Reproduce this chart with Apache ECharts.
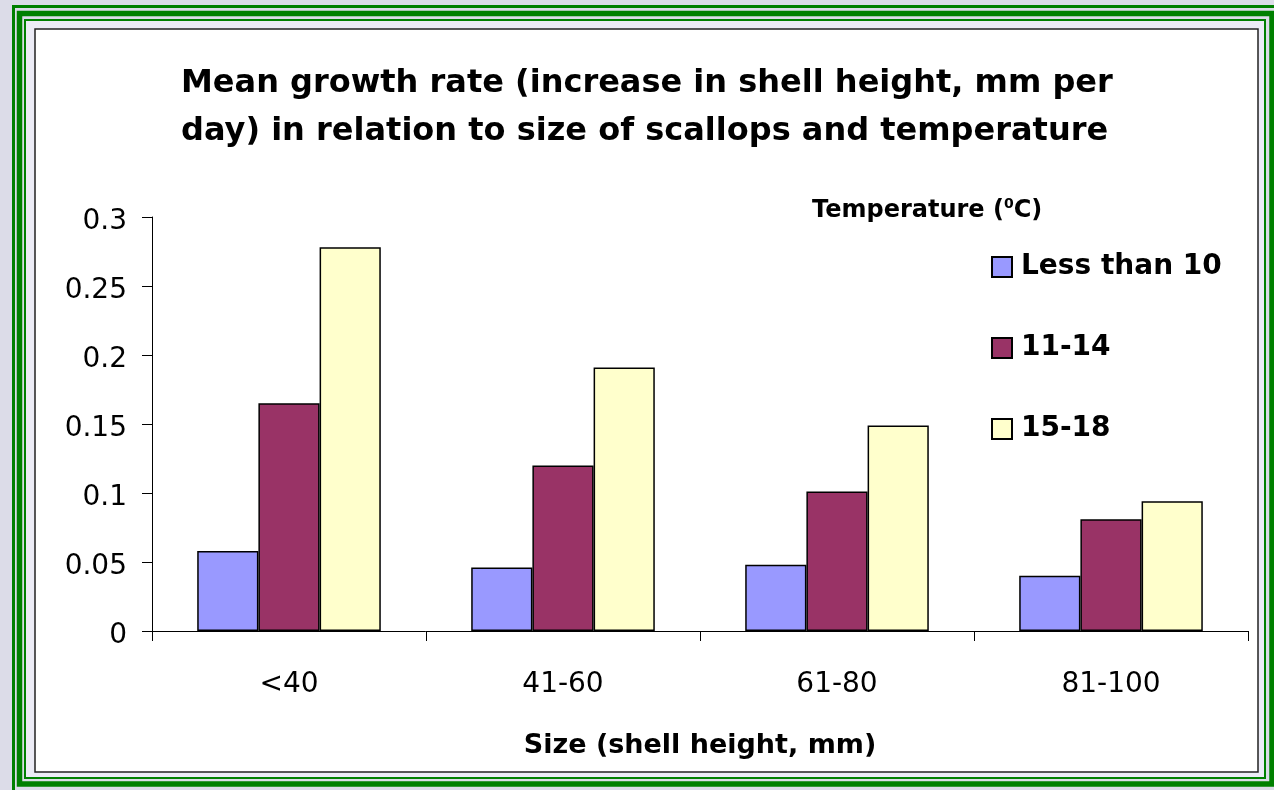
<!DOCTYPE html>
<html>
<head>
<meta charset="utf-8">
<script src="https://cdn.jsdelivr.net/npm/echarts@6/dist/echarts.min.js"></script>
<style>
html,body{margin:0;padding:0;background:#dcdce8;}
#chart{width:1274px;height:790px;}
</style>
</head>
<body>
<div id="chart"></div>
<script>
const categories = ['<40', '41-60', '61-80', '81-100'];
const seriesNames = ['Less than 10', '11-14', '15-18'];
const lessThan10 = [0.058, 0.046, 0.048, 0.040];
const t11to14 = [0.165, 0.120, 0.101, 0.081];
const t15to18 = [0.278, 0.191, 0.149, 0.094];
const yTicks = [0, 0.05, 0.1, 0.15, 0.2, 0.25, 0.3];

const FONT = 'DejaVu Sans';
const colors = ['#9999ff', '#993366', '#ffffcc'];
const chart = echarts.init(document.getElementById('chart'), null, {renderer: 'canvas'});

function barSeries(name, data, color) {
  return {
    name: name, type: 'bar', data: data,
    barGap: '0%', barCategoryGap: '33%',
    itemStyle: {color: color, borderColor: '#000', borderWidth: 1.5},
    emphasis: {disabled: true}
  };
}

const option = {
  backgroundColor: '#dcdce8',
  animation: false,
  graphic: [
    {type: 'rect', z: -10, shape: {x: 13.5, y: 6.5, width: 1300, height: 800}, style: {fill: null, stroke: '#008000', lineWidth: 3}},
    {type: 'rect', z: -10, shape: {x: 19.5, y: 13.5, width: 1252.5, height: 770.5}, style: {fill: null, stroke: '#008000', lineWidth: 5.5}},
    {type: 'rect', z: -10, shape: {x: 25, y: 20, width: 1240, height: 758}, style: {fill: '#ececf6', stroke: '#008000', lineWidth: 2}},
    {type: 'rect', z: -9, shape: {x: 35, y: 29, width: 1223, height: 743}, style: {fill: '#ffffff', stroke: '#222', lineWidth: 1.5}},
    {type: 'text', z: 10, x: 812, y: 211,
      style: {
        text: '{a|Temperature (}{s|0}{a|C)}',
        textVerticalAlign: 'middle',
        rich: {
          a: {fontFamily: FONT, fontWeight: 'bold', fontSize: 24, fill: '#000', lineHeight: 28},
          s: {fontFamily: FONT, fontWeight: 'bold', fontSize: 14, fill: '#000', lineHeight: 28, verticalAlign: 'top', padding: [0, 0, 10, 0]}
        }
      }
    }
  ],
  title: {
    text: 'Mean growth rate (increase in shell height, mm per\nday) in relation to size of scallops and temperature',
    left: 181,
    top: 60,
    padding: 0,
    textStyle: {fontFamily: FONT, fontWeight: 'bold', fontSize: 32, lineHeight: 48, color: '#000'}
  },
  legend: {
    orient: 'vertical',
    left: 986, top: 248,
    itemWidth: 20, itemHeight: 20, itemGap: 53,
    icon: 'rect',
    data: seriesNames,
    textStyle: {fontFamily: FONT, fontWeight: 'bold', fontSize: 28, color: '#000', padding: [0, 0, 0, 4]}
  },
  grid: {left: 152, right: 26, top: 217, bottom: 159, containLabel: false},
  xAxis: {
    type: 'category',
    data: categories,
    boundaryGap: true,
    name: 'Size (shell height, mm)',
    nameLocation: 'middle',
    nameGap: 101,
    nameTextStyle: {fontFamily: FONT, fontWeight: 'bold', fontSize: 27, color: '#000'},
    axisLine: {lineStyle: {color: '#000', width: 1}},
    axisTick: {show: true, inside: false, length: 10, lineStyle: {color: '#000'}},
    axisLabel: {fontFamily: FONT, fontSize: 28, color: '#000', margin: 40}
  },
  yAxis: {
    type: 'value',
    min: 0, max: 0.3, interval: 0.05,
    axisLine: {show: true, lineStyle: {color: '#000', width: 1}},
    axisTick: {show: true, inside: false, length: 10, lineStyle: {color: '#000'}},
    splitLine: {show: false},
    axisLabel: {fontFamily: FONT, fontSize: 28, color: '#000', margin: 25,
      verticalAlign: 'top', lineHeight: 10,
      formatter: function (v) { return String(parseFloat(v.toFixed(2))); }}
  },
  series: [
    barSeries(seriesNames[0], lessThan10, colors[0]),
    barSeries(seriesNames[1], t11to14, colors[1]),
    barSeries(seriesNames[2], t15to18, colors[2])
  ]
};
chart.setOption(option);
</script>
</body>
</html>
